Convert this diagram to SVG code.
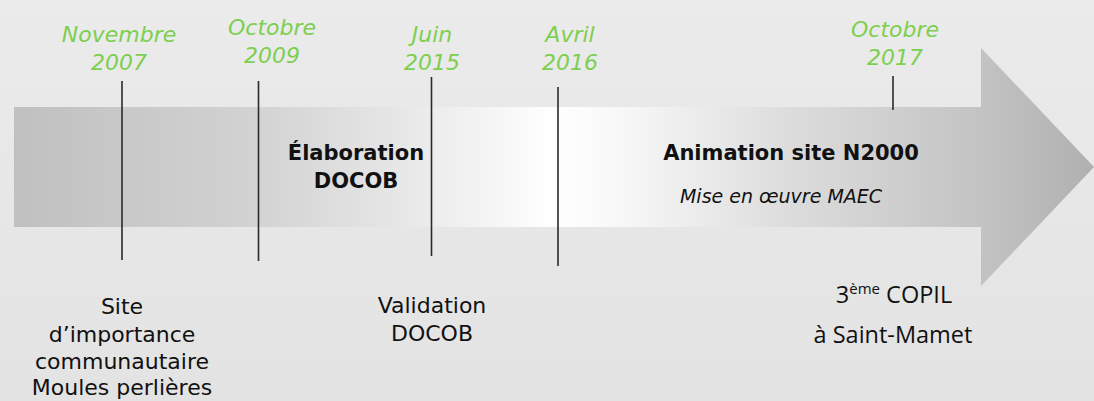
<svg xmlns="http://www.w3.org/2000/svg" width="1094" height="401" viewBox="0 0 1094 401">
<defs>
<linearGradient id="bg" x1="0" y1="0" x2="0" y2="1">
<stop offset="0" stop-color="#ebebeb"/>
<stop offset="1" stop-color="#e3e3e3"/>
</linearGradient>
<linearGradient id="arr" gradientUnits="userSpaceOnUse" x1="14" y1="0" x2="1094" y2="0">
<stop offset="0" stop-color="#c0c0c0"/>
<stop offset="0.22" stop-color="#d2d2d2"/>
<stop offset="0.34" stop-color="#e4e4e4"/>
<stop offset="0.5" stop-color="#ffffff"/>
<stop offset="0.56" stop-color="#f8f8f8"/>
<stop offset="0.72" stop-color="#dcdcdc"/>
<stop offset="0.89" stop-color="#c4c4c4"/>
<stop offset="1" stop-color="#b0b0b0"/>
</linearGradient>
<style>
.date{font-family:"DejaVu Sans",Verdana,sans-serif;font-style:italic;font-size:22px;fill:#7dcf4f;text-anchor:middle}
.lbl{font-family:"DejaVu Sans",Verdana,sans-serif;font-size:22px;fill:#111;text-anchor:middle}
.b{font-weight:bold;font-size:21px}
.it{font-style:italic;font-size:19px}
.seg{font-family:"Open Sans","Noto Sans",sans-serif;font-size:23.5px;fill:#111;text-anchor:middle}
.tick{stroke:#2a2a2a;stroke-width:1.6}
</style>
</defs>
<rect width="1094" height="401" fill="url(#bg)"/>
<g id="arrow">
<polygon points="14,107 981,107 981,48 1094,167 981,286 981,227 14,227" fill="url(#arr)"/>
</g>
<g id="connectors">
<line class="tick" x1="122" y1="81" x2="122" y2="260"/>
<line class="tick" x1="258.5" y1="81" x2="258.5" y2="261"/>
<line class="tick" x1="431.5" y1="77" x2="431.5" y2="256"/>
<line class="tick" x1="558" y1="87" x2="558" y2="266"/>
<line class="tick" x1="893" y1="76" x2="893" y2="110"/>
</g>
<g id="m2007">
<text class="date" x="119" y="42">Novembre</text>
<text class="date" x="119" y="70">2007</text>
<text class="lbl" x="122" y="314">Site</text>
<text class="lbl" x="122" y="342">d’importance</text>
<text class="lbl" x="122" y="369">communautaire</text>
<text class="lbl" x="122" y="395">Moules perlières</text>
</g>
<g id="m2009">
<text class="date" x="272" y="35">Octobre</text>
<text class="date" x="272" y="63">2009</text>
</g>
<g id="phase1">
<text class="lbl b" x="356" y="160">Élaboration</text>
<text class="lbl b" x="356" y="188">DOCOB</text>
</g>
<g id="m2015">
<text class="date" x="432" y="42">Juin</text>
<text class="date" x="432" y="70">2015</text>
<text class="lbl" x="432" y="313">Validation</text>
<text class="lbl" x="432" y="341">DOCOB</text>
</g>
<g id="m2016">
<text class="date" x="570" y="42">Avril</text>
<text class="date" x="570" y="70">2016</text>
</g>
<g id="phase2">
<text class="lbl b" x="791" y="160">Animation site N2000</text>
<text class="lbl it" x="781" y="203">Mise en œuvre MAEC</text>
</g>
<g id="m2017">
<text class="date" x="895" y="37">Octobre</text>
<text class="date" x="895" y="65">2017</text>
<text class="seg" x="894" y="303">3<tspan font-size="15" dy="-9">ème</tspan><tspan dy="9"> COPIL</tspan></text>
<text class="seg" x="893" y="343">à Saint-Mamet</text>
</g>
</svg>
